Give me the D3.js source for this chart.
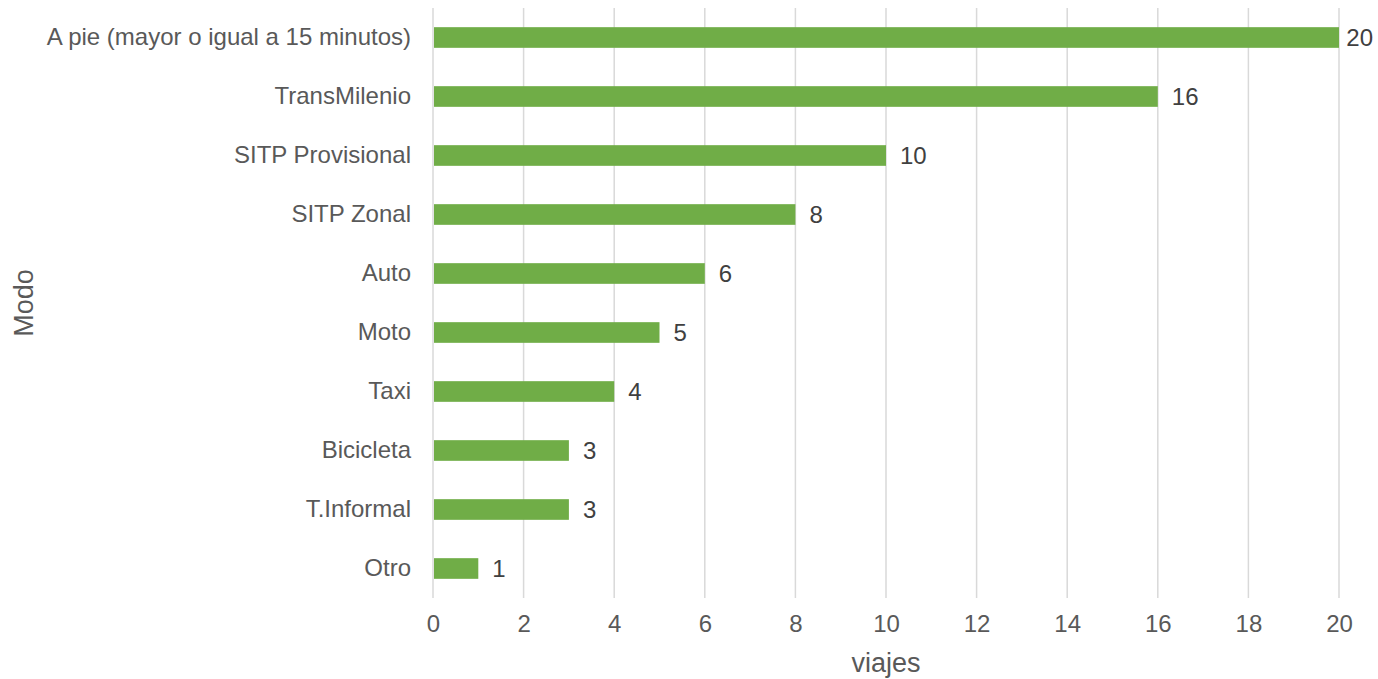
<!DOCTYPE html>
<html>
<head>
<meta charset="utf-8">
<script src="https://cdn.jsdelivr.net/npm/d3@7"></script>
<style>
  body { margin: 0; background: #fff; }
  text { font-family: "Liberation Sans", Arial, sans-serif; }
</style>
</head>
<body>
<script>
"use strict"

const modes = ['A pie (mayor o igual a 15 minutos)', 'TransMilenio', 'SITP Provisional', 'SITP Zonal',
	'Auto', 'Moto', 'Taxi', 'Bicicleta', 'T.Informal', 'Otro'];
const trips = [20, 16, 10, 8, 6, 5, 4, 3, 3, 1];
const xTicks = [0, 2, 4, 6, 8, 10, 12, 14, 16, 18, 20];

const w = 1378;
const h = 679;
const plotLeft = 433;
const plotRight = 1339;
const plotTop = 8;
const plotBottom = 598;

const svg = d3.select('body')
	.append('svg')
	.attr('width', w)
	.attr('height', h);

const xScale = d3.scaleLinear()
	.domain([0, 20])
	.range([plotLeft, plotRight]);

const yScale = d3.scaleBand()
	.domain(modes)
	.range([plotTop, plotBottom])
	.paddingInner(0.65)
	.paddingOuter(0.325);

// gridlines
svg.append('g')
	.selectAll('line')
	.data(xTicks)
	.enter()
	.append('line')
	.attr('x1', d => xScale(d))
	.attr('x2', d => xScale(d))
	.attr('y1', plotTop)
	.attr('y2', plotBottom)
	.attr('stroke', '#d9d9d9')
	.attr('stroke-width', 1.5);

// x axis
const xAxis = d3.axisBottom(xScale)
	.tickValues(xTicks)
	.tickSize(0)
	.tickPadding(17);

const gx = svg.append('g')
	.attr('transform', 'translate(0,' + plotBottom + ')')
	.call(xAxis);
gx.select('.domain').remove();
gx.selectAll('text')
	.attr('fill', '#595959')
	.style('font-size', '24px');

// y axis
const yAxis = d3.axisLeft(yScale)
	.tickSize(0)
	.tickPadding(22);

const gy = svg.append('g')
	.attr('transform', 'translate(' + plotLeft + ',0)')
	.call(yAxis);
gy.select('.domain').remove();
gy.selectAll('text')
	.attr('fill', '#595959')
	.style('font-size', '24px');

// bars
svg.selectAll('rect.bar')
	.data(trips)
	.enter()
	.append('rect')
	.attr('class', 'bar')
	.attr('x', xScale(0) + 1)
	.attr('y', (d, i) => yScale(modes[i]))
	.attr('width', d => xScale(d) - xScale(0) - 1)
	.attr('height', yScale.bandwidth())
	.attr('fill', '#70ad47');

// value labels (kept inside the chart area like Excel does)
svg.selectAll('text.val')
	.data(trips)
	.enter()
	.append('text')
	.attr('class', 'val')
	.attr('y', (d, i) => yScale(modes[i]) + yScale.bandwidth() / 2)
	.attr('dy', '0.35em')
	.attr('fill', '#404040')
	.style('font-size', '24px')
	.text(d => d)
	.attr('x', function (d) {
		const len = this.getComputedTextLength();
		return Math.min(xScale(d) + 14, w - 5 - len);
	});

// axis titles
svg.append('text')
	.attr('x', (plotLeft + plotRight) / 2)
	.attr('y', 663)
	.attr('dy', '0.35em')
	.attr('text-anchor', 'middle')
	.attr('fill', '#595959')
	.style('font-size', '27px')
	.text('viajes');

svg.append('text')
	.attr('transform', 'translate(24,' + ((plotTop + plotBottom) / 2) + ') rotate(-90)')
	.attr('dy', '0.35em')
	.attr('text-anchor', 'middle')
	.attr('fill', '#595959')
	.style('font-size', '27px')
	.text('Modo');
</script>
</body>
</html>
